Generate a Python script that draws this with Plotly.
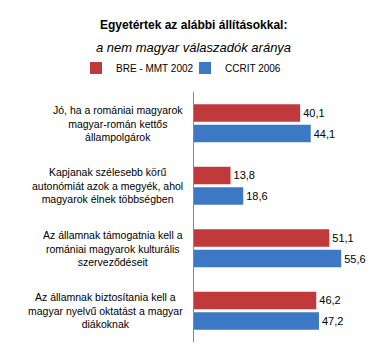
import plotly.graph_objects as go

categories = [
    "Jó, ha a romániai magyarok<br>magyar-román kettős<br>állampolgárok",
    "Kapjanak szélesebb körű<br>autonómiát azok a megyék, ahol<br>magyarok élnek többségben",
    "Az államnak támogatnia kell a<br>romániai magyarok kulturális<br>szerveződéseit",
    "Az államnak biztosítania kell a<br>magyar nyelvű oktatást a magyar<br>diákoknak",
]
cat_ids = ["c1", "c2", "c3", "c4"]
series_names = ["BRE - MMT 2002", "CCRIT 2006"]
bre_2002 = [40.1, 13.8, 51.1, 46.2]
ccrit_2006 = [44.1, 18.6, 55.6, 47.2]
colors = ["#C0393B", "#3C78C4"]

W, H = 385, 355
L, R, T, B = 194, 11, 92, 13
pw = W - L - R
ph = H - T - B

def fmt(v):
    return f"{v:.1f}".replace(".", ",")

fig = go.Figure()
for name, vals, col in zip(series_names, [bre_2002, ccrit_2006], colors):
    fig.add_trace(go.Bar(
        y=cat_ids, x=vals, orientation="h", name=name,
        marker=dict(color=col, line=dict(width=0)),
        text=[fmt(v) for v in vals], textposition="outside",
        textfont=dict(family="Liberation Sans", size=11, color="#000000"),
        cliponaxis=False,
    ))

annotations = []
for cid, lab in zip(cat_ids, categories):
    annotations.append(dict(
        x=(185 - L) / pw, xref="paper", y=cid, yref="y",
        text=lab, showarrow=False, xanchor="right", yanchor="middle",
        align="center", font=dict(family="Liberation Sans", size=10.5, color="#000000"),
    ))
annotations.append(dict(
    x=(193 - L) / pw, xref="paper", y=(H - B - 25) / ph, yref="paper",
    text="<b>Egyetértek az alábbi állításokkal:</b>", showarrow=False,
    xanchor="center", yanchor="middle",
    font=dict(family="Liberation Sans", size=12, color="#000000"),
))
annotations.append(dict(
    x=(193 - L) / pw, xref="paper", y=(H - B - 47) / ph, yref="paper",
    text="<i>a nem magyar válaszadók aránya</i>", showarrow=False,
    xanchor="center", yanchor="middle",
    font=dict(family="Liberation Sans", size=13, color="#000000"),
))

fig.update_layout(
    width=W, height=H,
    margin=dict(l=L, r=R, t=T, b=B, autoexpand=False),
    paper_bgcolor="white", plot_bgcolor="white",
    barmode="group", bargap=0.34, bargroupgap=0.15,
    showlegend=True,
    legend=dict(
        orientation="h", x=(76 - L) / pw, xanchor="left",
        y=(H - B - 68) / ph, yanchor="middle",
        font=dict(family="Liberation Sans", size=10, color="#000000"),
        itemsizing="constant", traceorder="normal",
        itemwidth=30, tracegroupgap=0, entrywidth=64, entrywidthmode="pixels",
        bgcolor="rgba(0,0,0,0)",
    ),
    xaxis=dict(range=[0, 68], showgrid=False, zeroline=False, showticklabels=False,
               showline=False, ticks=""),
    yaxis=dict(autorange="reversed", showticklabels=False, showgrid=False,
               showline=True, linecolor="#868686", linewidth=1, ticks="",
               zeroline=False),
    annotations=annotations,
)

fig.write_html(
    "out.html",
    config={"displayModeBar": False},
    post_script="document.body.style.margin='0';document.body.style.padding='0';",
)
